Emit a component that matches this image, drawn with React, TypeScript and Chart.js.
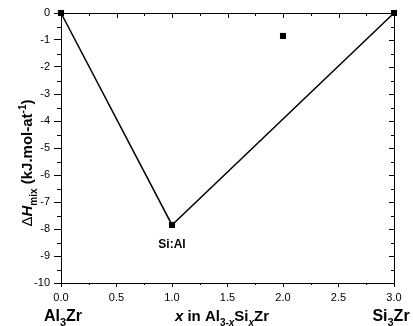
import React, { useEffect, useRef } from "react";
import { Chart, registerables } from "chart.js";

Chart.register(...registerables);

// Data
const lineX = [0, 1, 3];
const lineH = [0, -7.85, 0];
const extraX = [2];
const extraH = [-0.85];
const xTickStep = 0.5;
const yTickStep = 1;
const xRange = [0, 3];
const yRange = [-10, 0];
const pointLabel = "Si:Al";
const leftEndLabel = ["Al", "3", "Zr"];
const rightEndLabel = ["Si", "3", "Zr"];

type Part = { t: string; s?: "sub" | "sup"; i?: boolean; b?: boolean };

const FONT = "'Liberation Sans', Arial, sans-serif";

function drawRich(ctx: CanvasRenderingContext2D, parts: Part[], x: number, y: number, size: number, align: "left" | "center") {
  const fontFor = (p: Part) => {
    const sz = p.s ? Math.round(size * 0.68) : size;
    return `${p.i ? "italic " : ""}${p.b === false ? "" : "bold "}${sz}px ${FONT}`;
  };
  let total = 0;
  for (const p of parts) {
    ctx.font = fontFor(p);
    total += ctx.measureText(p.t).width;
  }
  let cx = align === "center" ? x - total / 2 : x;
  ctx.textAlign = "left";
  ctx.textBaseline = "alphabetic";
  for (const p of parts) {
    ctx.font = fontFor(p);
    const dy = p.s === "sub" ? size * 0.3 : p.s === "sup" ? -size * 0.42 : 0;
    ctx.fillText(p.t, cx, y + dy);
    cx += ctx.measureText(p.t).width;
  }
}

const decorPlugin = {
  id: "decor",
  afterDraw(chart: any) {
    const ctx: CanvasRenderingContext2D = chart.ctx;
    const xs = chart.scales.x;
    const ys = chart.scales.y;
    const { left, right, top, bottom } = chart.chartArea;
    ctx.save();
    ctx.strokeStyle = "#000";
    ctx.fillStyle = "#000";
    ctx.lineWidth = 1;
    // frame top & right
    ctx.beginPath();
    ctx.moveTo(left, top + 0.5);
    ctx.lineTo(right + 0.5, top + 0.5);
    ctx.lineTo(right + 0.5, bottom);
    ctx.stroke();
    // ticks
    ctx.beginPath();
    for (let v = xRange[0]; v <= xRange[1] + 1e-9; v += xTickStep / 2) {
      const px = Math.round(xs.getPixelForValue(v)) + 0.5;
      const major = Math.abs(v / xTickStep - Math.round(v / xTickStep)) < 1e-6;
      if (!major) {
        ctx.moveTo(px, bottom);
        ctx.lineTo(px, bottom + 2);
      }
      ctx.moveTo(px, top);
      ctx.lineTo(px, top + (major ? 5 : 3));
    }
    for (let v = yRange[0]; v <= yRange[1] + 1e-9; v += yTickStep / 2) {
      const py = Math.round(ys.getPixelForValue(v)) + 0.5;
      const major = Math.abs(v / yTickStep - Math.round(v / yTickStep)) < 1e-6;
      if (!major) {
        ctx.moveTo(left, py);
        ctx.lineTo(left - 4, py);
      }
      ctx.moveTo(right, py);
      ctx.lineTo(right - (major ? 5 : 3), py);
    }
    ctx.stroke();

    // point label
    const lp = { x: xs.getPixelForValue(lineX[1]), y: ys.getPixelForValue(lineH[1]) };
    drawRich(ctx, [{ t: pointLabel }], lp.x, lp.y + 23, 12, "center");

    // end labels
    const bl = bottom + 38;
    drawRich(ctx, [{ t: leftEndLabel[0] }, { t: leftEndLabel[1], s: "sub" }, { t: leftEndLabel[2] }], xs.getPixelForValue(xRange[0]) + 2, bl, 16, "center");
    drawRich(ctx, [{ t: rightEndLabel[0] }, { t: rightEndLabel[1], s: "sub" }, { t: rightEndLabel[2] }], xs.getPixelForValue(xRange[1]) - 3, bl, 16, "center");
    drawRich(
      ctx,
      [{ t: "x", i: true }, { t: " in Al" }, { t: "3-", s: "sub" }, { t: "x", s: "sub", i: true }, { t: "Si" }, { t: "x", s: "sub", i: true }, { t: "Zr" }],
      222,
      bl,
      15,
      "center"
    );

    // y title
    ctx.save();
    ctx.translate(26, 163);
    ctx.rotate(-Math.PI / 2);
    drawRich(
      ctx,
      [{ t: "Δ", b: false }, { t: "H", i: true }, { t: "mix", s: "sub" }, { t: " (kJ.mol-at" }, { t: "-1", s: "sup" }, { t: ")" }],
      0,
      6,
      15,
      "center"
    );
    ctx.restore();
    ctx.restore();
  },
};

export default function App() {
  const ref = useRef<HTMLCanvasElement | null>(null);
  useEffect(() => {
    document.body.style.margin = "0";
    if (!ref.current) return;
    const chart = new Chart(ref.current, {
      type: "scatter",
      data: {
        datasets: [
          {
            data: lineX.map((x, i) => ({ x, y: lineH[i] })),
            showLine: true,
            borderColor: "#000",
            backgroundColor: "#000",
            borderWidth: 1.5,
            pointStyle: "rect",
            pointRadius: 4.3,
            pointBorderWidth: 0,
            clip: 4,
          },
          {
            data: extraX.map((x, i) => ({ x, y: extraH[i] })),
            showLine: false,
            borderColor: "#000",
            backgroundColor: "#000",
            pointStyle: "rect",
            pointRadius: 4.3,
            pointBorderWidth: 0,
          },
        ],
      },
      options: {
        animation: false,
        responsive: false,
        devicePixelRatio: 1,
        layout: { padding: { left: 0, top: 13, right: 19, bottom: 0 } },
        plugins: { legend: { display: false }, tooltip: { enabled: false } },
        scales: {
          x: {
            type: "linear",
            min: xRange[0],
            max: xRange[1],
            afterFit: (s: any) => {
              s.height = 43;
            },
            ticks: {
              stepSize: xTickStep,
              color: "#000",
              font: { family: FONT, size: 11 },
              padding: 4,
              callback: (v: any) => Number(v).toFixed(1),
              maxRotation: 0,
            },
            grid: { display: true, drawOnChartArea: false, drawTicks: true, tickLength: 4, color: "#000" },
            border: { display: true, color: "#000", width: 1 },
          },
          y: {
            type: "linear",
            min: yRange[0],
            max: yRange[1],
            afterFit: (s: any) => {
              s.width = 61;
            },
            ticks: {
              stepSize: yTickStep,
              color: "#000",
              font: { family: FONT, size: 11 },
              padding: 4,
            },
            grid: { display: true, drawOnChartArea: false, drawTicks: true, tickLength: 7, color: "#000" },
            border: { display: true, color: "#000", width: 1 },
          },
        },
      },
      plugins: [decorPlugin],
    } as any);
    return () => chart.destroy();
  }, []);
  return (
    <div style={{ width: 413, height: 326, background: "#fff" }}>
      <canvas ref={ref} width={413} height={326} style={{ width: 413, height: 326, display: "block" }} />
    </div>
  );
}
